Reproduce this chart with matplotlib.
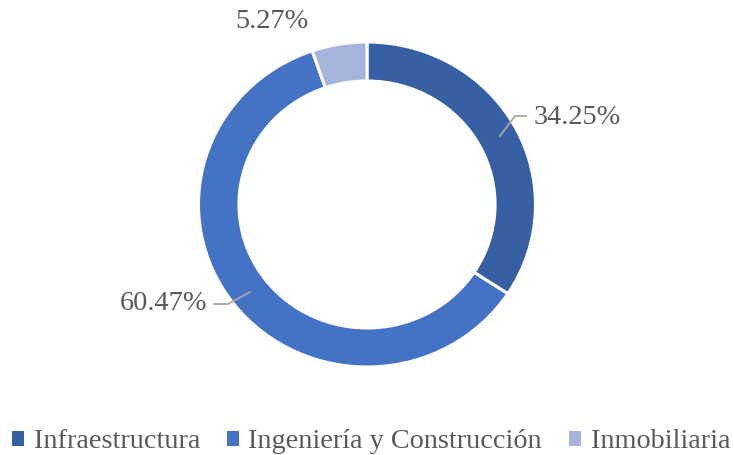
import matplotlib
matplotlib.use("Agg")
import matplotlib.pyplot as plt
from matplotlib.patches import Patch

categories = ["Infraestructura", "Ingeniería y Construcción", "Inmobiliaria"]
values = [34.25, 60.47, 5.27]
labels = ["34.25%", "60.47%", "5.27%"]
colors = ["#3760A4", "#4472C4", "#A6B4DB"]

plt.rcParams['font.family'] = ['Liberation Serif', 'DejaVu Serif']
text_color = "#595959"

W, H = 734, 455
fig = plt.figure(figsize=(W / 100, H / 100), dpi=100)

# pie axes (slightly elliptical like reference)
cx, cy = 367, 204.5
rx, ry = 168.5, 162.5
ax = fig.add_axes([(cx - rx) / W, (H - cy - ry) / H, 2 * rx / W, 2 * ry / H])
wedges, _ = ax.pie(values, colors=colors, startangle=90, counterclock=False,
                   radius=1.0, wedgeprops=dict(width=0.24, edgecolor="white", linewidth=2.2))
ax.set_aspect('auto')
ax.set_xlim(-1, 1)
ax.set_ylim(-1, 1)
ax.axis('off')

def px(x, y):
    return (x / W, 1 - y / H)

# leader lines (figure pixel coords)
line_col = "#A6A6A6"
fig.add_artist(plt.Line2D([500 / W, 515 / W, 526 / W], [1 - 136 / H, 1 - 116 / H, 1 - 116 / H],
                          color=line_col, lw=1.3, transform=fig.transFigure))
fig.add_artist(plt.Line2D([214 / W, 228 / W, 250 / W], [1 - 304 / H, 1 - 304 / H, 1 - 292 / H],
                          color=line_col, lw=1.3, transform=fig.transFigure))

fs = 20.3
fig.text(*px(534, 118), labels[0], fontsize=fs, color=text_color, ha='left', va='center')
fig.text(*px(207, 304), labels[1], fontsize=fs, color=text_color, ha='right', va='center')
fig.text(*px(272, 22), labels[2], fontsize=fs, color=text_color, ha='center', va='center')

handles = [Patch(facecolor=c, edgecolor='none') for c in colors]
leg = fig.legend(handles, categories, loc='center', bbox_to_anchor=(371 / W, 1 - 442 / H),
                 ncol=3, frameon=False, fontsize=fs, handlelength=0.42, handleheight=0.42,
                 handletextpad=0.35, columnspacing=0.95, labelcolor=text_color)

fig.savefig("out.png", dpi=100, facecolor="white")
